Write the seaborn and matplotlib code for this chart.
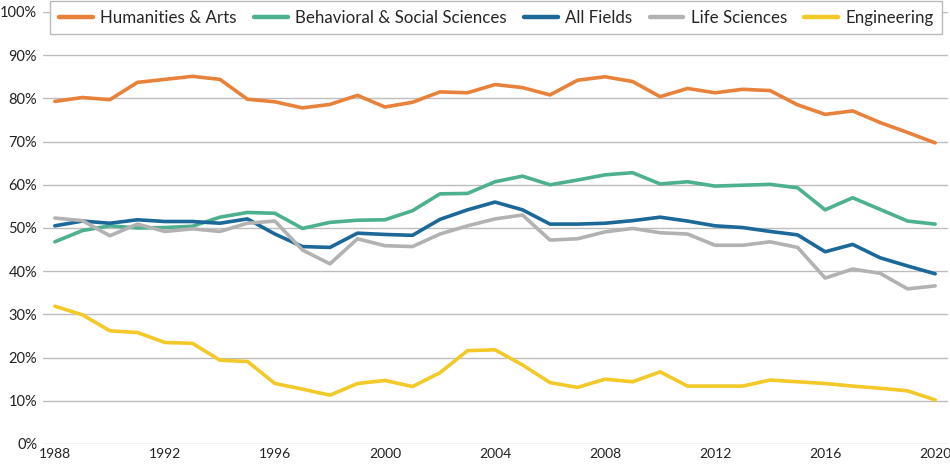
import matplotlib
matplotlib.use('Agg')
import matplotlib.pyplot as plt
import pandas as pd
import seaborn as sns
import numpy as np

years = list(range(1988, 2021))

humanities = [79.3, 80.2, 79.7, 83.7, 84.4, 85.1, 84.4, 79.8, 79.2, 77.8, 78.6, 80.7, 78.0, 79.1, 81.5, 81.3, 83.2,
              82.5, 80.8, 84.2, 85.0, 83.9, 80.4, 82.3, 81.3, 82.1, 81.8, 78.5, 76.3, 77.1, 74.4, 72.1, 69.7]
behavioral = [46.8, 49.4, 50.5, 50.0, 50.1, 50.4, 52.5, 53.6, 53.4, 49.9, 51.3, 51.8, 51.9, 54.0, 57.9, 58.0, 60.7,
              62.0, 60.0, 61.1, 62.3, 62.8, 60.2, 60.7, 59.7, 59.9, 60.1, 59.3, 54.2, 57.0, 54.3, 51.6, 50.9]
all_fields = [50.5, 51.6, 51.1, 51.9, 51.5, 51.5, 51.1, 52.1, 48.6, 45.7, 45.5, 48.8, 48.5, 48.3, 52.0, 54.2, 56.0,
              54.2, 50.9, 50.9, 51.1, 51.7, 52.5, 51.6, 50.5, 50.1, 49.2, 48.4, 44.5, 46.2, 43.1, 41.2, 39.4]
life_sci = [52.3, 51.7, 48.2, 50.9, 49.2, 49.8, 49.2, 51.1, 51.6, 44.9, 41.7, 47.5, 45.9, 45.7, 48.6, 50.5, 52.1,
            53.0, 47.2, 47.5, 49.1, 49.9, 48.9, 48.6, 46.0, 46.0, 46.8, 45.5, 38.4, 40.5, 39.5, 35.9, 36.6]
engineering = [31.9, 29.9, 26.2, 25.8, 23.5, 23.3, 19.4, 19.1, 14.0, 12.7, 11.3, 14.0, 14.7, 13.3, 16.5, 21.6, 21.8,
               18.3, 14.2, 13.1, 15.0, 14.4, 16.7, 13.4, 13.4, 13.4, 14.8, 14.4, 14.0, 13.4, 12.9, 12.3, 10.2]

fields = ['Humanities & Arts', 'Behavioral & Social Sciences', 'All Fields', 'Life Sciences', 'Engineering']
colors = ['#E8813A', '#4DB08F', '#1B6899', '#B2B2B2', '#F2C926']

df = pd.DataFrame({
    'Year': years * 5,
    'Share': humanities + behavioral + all_fields + life_sci + engineering,
    'Field': sum([[f] * len(years) for f in fields], []),
})

sns.set_style('white')
plt.rcParams['font.family'] = ['Lato', 'DejaVu Sans']

fig = plt.figure(figsize=(9.5, 4.68), dpi=100)
ax = fig.add_axes([0.045, 0.0513, 0.953, 0.9231])

sns.lineplot(data=df, x='Year', y='Share', hue='Field', palette=dict(zip(fields, colors)),
             hue_order=fields, linewidth=2.6, ax=ax, legend=True)

ax.set_xlim(1987.56, 2020.47)
ax.set_ylim(0, 100)
ax.set_yticks(np.arange(0, 101, 10))
ax.set_yticklabels([f'{v}%' for v in range(0, 101, 10)])
ax.set_xticks(range(1988, 2021, 4))
ax.grid(axis='y', color='#BDBDBD', linewidth=1)
ax.set_axisbelow(True)
for s in ax.spines.values():
    s.set_visible(False)
ax.tick_params(axis='both', length=0, colors='#222222')
ax.tick_params(axis='x', pad=3, labelsize=10)
ax.tick_params(axis='y', pad=4, labelsize=10.5)
ax.set_xlabel('')
ax.set_ylabel('')

# move the legend from the axes to one row above the plot
handles, labels = ax.get_legend_handles_labels()
ax.get_legend().remove()
leg = fig.legend(handles, labels, ncol=5, loc='upper center', bbox_to_anchor=(0.5226, 0.997),
                 frameon=True, fancybox=False, fontsize=12.2, handlelength=2.0, columnspacing=1.0,
                 handletextpad=0.45, borderpad=0.5, borderaxespad=0)
leg.get_frame().set_edgecolor('#BBBBBB')
leg.get_frame().set_linewidth(1)
leg.get_frame().set_facecolor('white')
leg.get_frame().set_alpha(1)
for line in leg.get_lines():
    line.set_linewidth(3.2)

fig.savefig('out.png', dpi=100)
